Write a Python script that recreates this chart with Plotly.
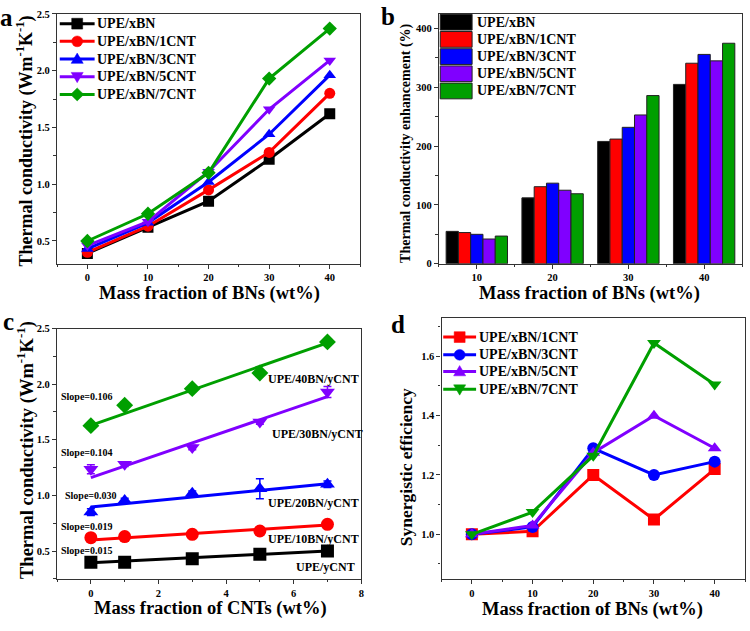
import plotly.graph_objects as go

FONT = "Liberation Serif"
COLORS = ["#000000", "#FF0000", "#0000FF", "#8000FF", "#009F00"]

# ---------- Panel a ----------
bn_frac = [0, 10, 20, 30, 40]
a_names = ["UPE/xBN", "UPE/xBN/1CNT", "UPE/xBN/3CNT", "UPE/xBN/5CNT", "UPE/xBN/7CNT"]
a_xbn = [0.39, 0.62, 0.85, 1.22, 1.62]
a_1cnt = [0.40, 0.63, 0.95, 1.28, 1.80]
a_3cnt = [0.43, 0.66, 1.02, 1.44, 1.96]
a_5cnt = [0.46, 0.67, 1.11, 1.66, 2.09]
a_7cnt = [0.50, 0.74, 1.10, 1.93, 2.37]
a_symbols = ["square", "circle", "triangle-up", "triangle-down", "diamond"]

# ---------- Panel b ----------
b_frac = [10, 20, 30, 40]
b_xbn = [55, 112, 208, 305]
b_1cnt = [53, 131, 212, 341]
b_3cnt = [50, 137, 232, 356]
b_5cnt = [42, 125, 253, 345]
b_7cnt = [47, 119, 286, 375]

# ---------- Panel c ----------
cnt_frac = [0, 1, 3, 5, 7]
c_names = ["UPE/yCNT", "UPE/10BN/yCNT", "UPE/20BN/yCNT", "UPE/30BN/yCNT", "UPE/40BN/yCNT"]
c_0bn = [0.40, 0.40, 0.43, 0.47, 0.50]
c_10bn = [0.62, 0.63, 0.65, 0.68, 0.74]
c_20bn = [0.85, 0.955, 1.02, 1.06, 1.10]
c_30bn = [1.235, 1.28, 1.43, 1.66, 1.93]
c_40bn = [1.627, 1.81, 1.96, 2.10, 2.38]
c_err0 = [0.01, 0.01, 0.01, 0.01, 0.01]
c_err10 = [0.01, 0.01, 0.01, 0.01, 0.01]
c_err20 = [0.03, 0.02, 0.02, 0.09, 0.03]
c_err30 = [0.04, 0.02, 0.02, 0.02, 0.05]
c_err40 = [0.01, 0.03, 0.02, 0.02, 0.02]
c_slopes = [0.015, 0.019, 0.030, 0.104, 0.106]
c_intercepts = [0.395, 0.60, 0.895, 1.16, 1.63]
c_symbols = ["square", "circle", "triangle-up", "triangle-down", "diamond"]
c_fit_x = [0, 7]
# label positions (data coords of panel c)
c_slope_lab_x = [-0.1, -0.1, 0.0, -0.1, -0.1]
c_slope_lab_y = [0.505, 0.72, 1.0, 1.39, 1.89]
c_name_lab_x = [6.95, 6.6, 6.6, 6.7, 6.6]
c_name_lab_y = [0.353, 0.61, 0.93, 1.55, 2.05]

# ---------- Panel d ----------
d_names = ["UPE/xBN/1CNT", "UPE/xBN/3CNT", "UPE/xBN/5CNT", "UPE/xBN/7CNT"]
d_1cnt = [1.00, 1.01, 1.20, 1.05, 1.22]
d_3cnt = [1.00, 1.025, 1.29, 1.20, 1.245]
d_5cnt = [1.00, 1.03, 1.275, 1.40, 1.29]
d_7cnt = [1.00, 1.075, 1.265, 1.645, 1.505]
d_symbols = ["square", "circle", "triangle-up", "triangle-down"]
d_colors = COLORS[1:]

W, H = 750, 631


def X(p):
    return p / W


def Y(p):
    return 1 - p / H


fig = go.Figure()

# Panel a traces
for name, vals, col, sym in zip(a_names, [a_xbn, a_1cnt, a_3cnt, a_5cnt, a_7cnt], COLORS, a_symbols):
    fig.add_trace(go.Scatter(
        x=bn_frac, y=vals, name=name, mode="lines+markers",
        line=dict(color=col, width=3),
        marker=dict(symbol=sym, size=11, color=col),
        xaxis="x", yaxis="y", showlegend=False))

# Panel b traces
for name, vals, col in zip(a_names, [b_xbn, b_1cnt, b_3cnt, b_5cnt, b_7cnt], COLORS):
    fig.add_trace(go.Bar(
        x=b_frac, y=vals, name=name,
        marker=dict(color=col, line=dict(color="#222222", width=1)),
        xaxis="x2", yaxis="y2", showlegend=False))

# Panel c traces
for i, (vals, err, col, sym) in enumerate(zip([c_0bn, c_10bn, c_20bn, c_30bn, c_40bn],
                                               [c_err0, c_err10, c_err20, c_err30, c_err40],
                                               COLORS, c_symbols)):
    fit_y = [c_intercepts[i] + c_slopes[i] * xx for xx in c_fit_x]
    fig.add_trace(go.Scatter(
        x=c_fit_x, y=fit_y, mode="lines", line=dict(color=col, width=3),
        showlegend=False, xaxis="x3", yaxis="y3", hoverinfo="skip"))
    fig.add_trace(go.Scatter(
        x=cnt_frac, y=vals, mode="markers", name=c_names[i],
        marker=dict(symbol=sym, size=13, color=col),
        error_y=dict(type="data", array=err, color=col, thickness=1.5, width=4),
        showlegend=False, xaxis="x3", yaxis="y3"))

# Panel d traces
for name, vals, col, sym in zip(d_names, [d_1cnt, d_3cnt, d_5cnt, d_7cnt], d_colors, d_symbols):
    fig.add_trace(go.Scatter(
        x=bn_frac, y=vals, name=name, mode="lines+markers",
        line=dict(color=col, width=3),
        marker=dict(symbol=sym, size=12, color=col),
        xaxis="x4", yaxis="y4", showlegend=False))

tickfont = dict(family=FONT, size=10.5, color="black", weight="bold")


def ax(domain, rng, dtick, tick0, minor_dtick, anchor, fmt=None):
    d = dict(domain=domain, range=rng, dtick=dtick, tick0=tick0, tickmode="linear",
             showline=True, linecolor="#333333", linewidth=1.2, mirror=True,
             ticks="outside", ticklen=4, tickwidth=1.2, tickcolor="#333333",
             minor=dict(ticks="outside", ticklen=2.5, tickwidth=1, tickcolor="#333333",
                        dtick=minor_dtick, showgrid=False),
             showgrid=False, zeroline=False, tickfont=tickfont, anchor=anchor)
    if fmt:
        d["tickformat"] = fmt
    return d


fig.update_layout(
    width=W, height=H,
    margin=dict(l=0, r=0, t=0, b=0),
    paper_bgcolor="white", plot_bgcolor="white",
    barmode="group", bargap=0.19, bargroupgap=0,
    font=dict(family=FONT, color="black"),
    showlegend=False,
    xaxis=ax([X(57.3), X(361.5)], [-5, 45], 10, 0, 5, "y"),
    yaxis=ax([Y(263.3), Y(9)], [0.3, 2.5001], 0.5, 0.5, 0.25, "x", ".1f"),
    xaxis2=ax([X(440.7), X(745)], [5, 45], 10, 10, 5, "y2"),
    yaxis2=ax([Y(263.3), Y(9)], [0, 425], 100, 0, 50, "x2"),
    xaxis3=ax([X(57.3), X(362.7)], [-1, 8.0001], 2, 0, 1, "y3"),
    yaxis3=ax([Y(584), Y(329.3)], [0.25, 2.5001], 0.5, 0.5, 0.25, "x3", ".1f"),
    xaxis4=ax([X(443.3), X(748)], [-5, 45], 10, 0, 5, "y4"),
    yaxis4=ax([Y(584), Y(318.3)], [0.85, 1.73], 0.2, 1.0, 0.1, "x4", ".1f"),
)

ann = []
shapes = []


def lab(text, x, y, size, angle=0, xref="paper", yref="paper", xanchor="center"):
    ann.append(dict(text=text, x=x, y=y, xref=xref, yref=yref, showarrow=False,
                    textangle=angle, xanchor=xanchor, yanchor="middle",
                    font=dict(family=FONT, size=size, color="black", weight="bold")))


def P(xp, yp):
    return "%.5f,%.5f" % (X(xp), Y(yp))


def marker_shape(sym, cx, cy, s, col):
    h = s / 2.0
    base = dict(xref="paper", yref="paper", fillcolor=col, line=dict(color=col, width=0.5))
    if sym == "square":
        shapes.append(dict(type="rect", x0=X(cx - h), x1=X(cx + h), y0=Y(cy + h), y1=Y(cy - h), **base))
    elif sym == "circle":
        shapes.append(dict(type="circle", x0=X(cx - h), x1=X(cx + h), y0=Y(cy + h), y1=Y(cy - h), **base))
    elif sym == "triangle-up":
        path = "M%s L%s L%s Z" % (P(cx, cy - h * 1.1), P(cx + h * 1.1, cy + h * 0.8), P(cx - h * 1.1, cy + h * 0.8))
        shapes.append(dict(type="path", path=path, **base))
    elif sym == "triangle-down":
        path = "M%s L%s L%s Z" % (P(cx, cy + h * 1.1), P(cx + h * 1.1, cy - h * 0.8), P(cx - h * 1.1, cy - h * 0.8))
        shapes.append(dict(type="path", path=path, **base))
    elif sym == "diamond":
        k = h * 1.2
        path = "M%s L%s L%s L%s Z" % (P(cx, cy - k), P(cx + k, cy), P(cx, cy + k), P(cx - k, cy))
        shapes.append(dict(type="path", path=path, **base))


def line_legend(names, cols, syms, x0, x1, text_x, ys, msize):
    for name, col, sym, yy in zip(names, cols, syms, ys):
        shapes.append(dict(type="line", xref="paper", yref="paper",
                           x0=X(x0), x1=X(x1), y0=Y(yy), y1=Y(yy),
                           line=dict(color=col, width=3)))
        marker_shape(sym, (x0 + x1) / 2.0, yy, msize, col)
        lab(name, X(text_x), Y(yy), 14, xanchor="left")


# legend of panel a
line_legend(a_names, COLORS, a_symbols, 60, 95, 95, [19, 37, 55, 73, 91], 11)
# legend of panel d
line_legend(d_names, d_colors, d_symbols, 445, 478, 479, [338, 356, 373, 391], 11)
# legend of panel b (bars)
for name, col, yy in zip(a_names, COLORS, [17.5, 35, 52.5, 70, 87.5]):
    shapes.append(dict(type="rect", xref="paper", yref="paper",
                       x0=X(442), x1=X(474), y0=Y(yy + 8), y1=Y(yy - 8),
                       fillcolor=col, line=dict(color="#222222", width=1)))
    lab(name, X(477), Y(yy), 14, xanchor="left")

# panel letters
lab("a", X(7), Y(13), 25)
lab("b", X(390), Y(12), 25)
lab("c", X(9), Y(322), 25)
lab("d", X(400), Y(325), 25)

# axis titles
lab("Mass fraction of BNs (wt%)", X(210), Y(294), 18.5)
lab("Thermal conductivity (Wm<sup>-1</sup>K<sup>-1</sup>)", X(25), Y(138), 18, -90)
lab("Mass fraction of BNs (wt%)", X(592), Y(294), 18.5)
lab("Thermal conductivity enhancement (%)", X(407), Y(141), 14, -90)
lab("Mass fraction of CNTs (wt%)", X(211), Y(614), 18.5)
lab("Thermal conductivity (Wm<sup>-1</sup>K<sup>-1</sup>)", X(25), Y(453), 18.5, -90)
lab("Mass fraction of BNs (wt%)", X(595), Y(615), 18.5)
lab("Synergistic efficiency", X(407), Y(470), 17.5, -90)

# panel c slope and series labels
for i in range(5):
    lab("Slope=%.3f" % c_slopes[i], c_slope_lab_x[i], c_slope_lab_y[i], 10, xref="x3", yref="y3")
    lab(c_names[i], c_name_lab_x[i], c_name_lab_y[i], 12, xref="x3", yref="y3")

fig.update_layout(annotations=ann, shapes=shapes)

# remove the default 8px page margin so the 750x631 figure fills the window
fig.write_html("out.html",
               config={"displayModeBar": False},
               post_script="document.body.style.margin='0px';document.body.style.overflow='hidden';")
